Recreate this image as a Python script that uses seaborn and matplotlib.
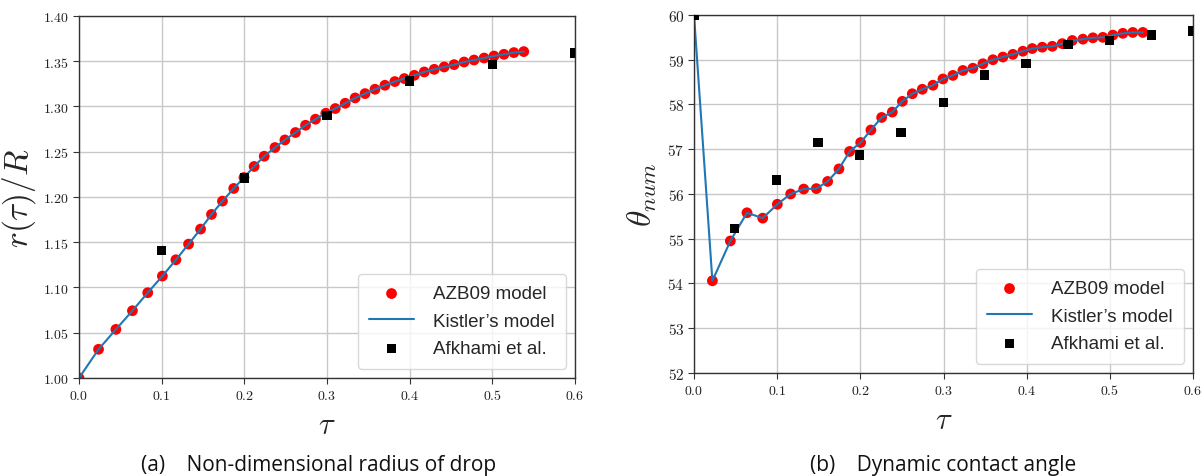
import numpy as np
import pandas as pd
import matplotlib
matplotlib.use("Agg")
import matplotlib.pyplot as plt
import seaborn as sns

# (a) non-dimensional radius
tau_a = [0.0, 0.0236, 0.0446, 0.0646, 0.0831, 0.1008, 0.1172, 0.1325, 0.147, 0.1602,
         0.1735, 0.1871, 0.1995, 0.2118, 0.224, 0.237, 0.249, 0.2618, 0.274, 0.286,
         0.2985, 0.31, 0.322, 0.334, 0.346, 0.358, 0.370, 0.382, 0.3935, 0.4056,
         0.4176, 0.4297, 0.4417, 0.4537, 0.4658, 0.4778, 0.49, 0.502, 0.514, 0.526, 0.538]
r_a = [1.0, 1.0317, 1.0537, 1.0743, 1.0942, 1.1126, 1.1306, 1.1479, 1.1645, 1.1807,
       1.1954, 1.2094, 1.2215, 1.2337, 1.2450, 1.2546, 1.263, 1.2712, 1.2792, 1.2859,
       1.2925, 1.2977, 1.3035, 1.3094, 1.3142, 1.319, 1.3234, 1.3275, 1.3308, 1.3344,
       1.3381, 1.341, 1.3436, 1.3462, 1.3491, 1.3513, 1.3535, 1.3557, 1.3576, 1.3595, 1.3606]
tau_afk_a = [0.1, 0.2, 0.3, 0.4, 0.5, 0.6]
r_afk_a = [1.1405, 1.221, 1.290, 1.328, 1.346, 1.359]

# (b) dynamic contact angle
tau_b = [0.0, 0.0221, 0.0437, 0.0637, 0.0826, 0.1002, 0.1162, 0.1319, 0.1471, 0.1607,
         0.1743, 0.1871, 0.2004, 0.2127, 0.2256, 0.2384, 0.2505, 0.2625, 0.2745, 0.2873,
         0.2993, 0.3113, 0.3233, 0.3353, 0.3474, 0.3594, 0.3714, 0.3834, 0.3954, 0.4067,
         0.4187, 0.4308, 0.4428, 0.4548, 0.4676, 0.4796, 0.4916, 0.5036, 0.5156, 0.5276, 0.5397]
theta_b = [60.0, 54.06, 54.95, 55.58, 55.46, 55.77, 56.0, 56.11, 56.12, 56.28,
           56.56, 56.95, 57.15, 57.43, 57.71, 57.83, 58.07, 58.24, 58.34, 58.43,
           58.57, 58.65, 58.76, 58.81, 58.91, 59.0, 59.06, 59.12, 59.19, 59.25,
           59.28, 59.30, 59.36, 59.43, 59.46, 59.49, 59.50, 59.55, 59.59, 59.61, 59.61]
tau_afk_b = [0.0, 0.049, 0.099, 0.149, 0.199, 0.249, 0.300, 0.349, 0.399, 0.4495, 0.4996, 0.5497, 0.6]
theta_afk_b = [60.0, 55.23, 56.31, 57.15, 56.87, 57.37, 58.04, 58.66, 58.92, 59.34, 59.43, 59.55, 59.64]

x_ticks = [0.0, 0.1, 0.2, 0.3, 0.4, 0.5, 0.6]
y_ticks_a = [1.00, 1.05, 1.10, 1.15, 1.20, 1.25, 1.30, 1.35, 1.40]
y_ticks_b = [52, 53, 54, 55, 56, 57, 58, 59, 60]

sns.set_style("whitegrid")
plt.rcParams["mathtext.fontset"] = "cm"
plt.rcParams["font.family"] = ["Liberation Sans", "DejaVu Sans"]

fig = plt.figure(figsize=(12.03, 4.77), dpi=100)
ax1 = fig.add_axes([0.0657, 0.2055, 0.4123, 0.759])
ax2 = fig.add_axes([0.5769, 0.216, 0.4148, 0.7505])


def draw(ax, tau, val, tau_afk, val_afk):
    df = pd.DataFrame({"tau": tau, "val": val})
    sns.scatterplot(data=df, x="tau", y="val", ax=ax, color="red", s=60,
                    edgecolor="none", label="AZB09 model", zorder=1)
    sns.lineplot(data=df, x="tau", y="val", ax=ax, color="#1f77b4", lw=1.5,
                 sort=False, estimator=None, label="Kistler\u2019s model", zorder=2)
    dfa = pd.DataFrame({"tau": tau_afk, "val": val_afk})
    sns.scatterplot(data=dfa, x="tau", y="val", ax=ax, color="black", marker="s",
                    s=45, edgecolor="none", label="Afkhami et al.", zorder=3)
    ax.set_xlim(0, 0.6)
    ax.set_xticks(x_ticks, labels=[f"${v:.1f}$" for v in x_ticks], fontsize=10)
    ax.set_xlabel(r"$\tau$", fontsize=22, labelpad=6)
    ax.grid(True, color="#c8c8c8", lw=1.0)
    for s in ax.spines.values():
        s.set_color("#333333")
        s.set_linewidth(1.0)
    ax.tick_params(axis="both", which="major", length=4, width=0.8, color="#333333",
                   direction="out", bottom=True, left=True, pad=3, labelcolor="#222222")
    ax.legend(loc="lower right", fontsize=13.5, handlelength=2.4, labelspacing=0.55,
              handletextpad=1.0, borderpad=0.6, framealpha=0.8, edgecolor="#d0d0d0",
              scatterpoints=1, markerscale=1.0)


draw(ax1, tau_a, r_a, tau_afk_a, r_afk_a)
ax1.set_ylim(1.0, 1.4)
ax1.set_yticks(y_ticks_a, labels=[f"${v:.2f}$" for v in y_ticks_a], fontsize=10)
ax1.set_ylabel(r"$r(\tau)/R$", fontsize=24, labelpad=4)

draw(ax2, tau_b, theta_b, tau_afk_b, theta_afk_b)
ax2.set_ylim(52, 60)
ax2.set_yticks(y_ticks_b, labels=[f"${v}$" for v in y_ticks_b], fontsize=11)
ax2.set_ylabel(r"$\theta_{num}$", fontsize=24, labelpad=6)

fig.text(0.265, 0.024, "(a)    Non-dimensional radius of drop", ha="center", va="center",
         fontsize=15, color="#111111", family=["Open Sans", "DejaVu Sans"])
fig.text(0.784, 0.024, "(b)    Dynamic contact angle", ha="center", va="center",
         fontsize=15, color="#111111", family=["Open Sans", "DejaVu Sans"])

fig.savefig("out.png", dpi=100)
